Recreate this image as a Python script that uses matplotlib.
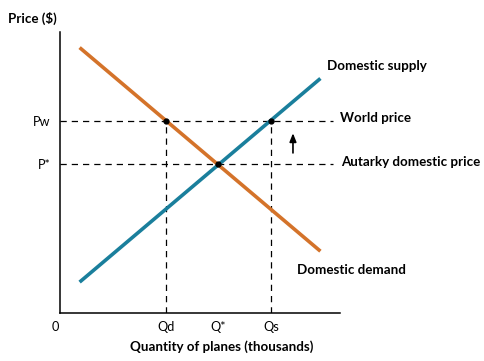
import matplotlib
matplotlib.use("Agg")
import matplotlib.pyplot as plt

plt.rcParams['font.family'] = ['Lato', 'DejaVu Sans']

# data (axis units 0..10)
line_x = [0.7, 9.3]
demand_y = [9.45, 2.2]
supply_y = [1.1, 8.35]
pw = 6.83
p_star = 5.3
qd = 3.79
q_star = 5.64
qs = 7.54
x_ticks = [0, qd, q_star, qs]
x_labels = ["0", "Qd", "Q*", "Qs"]
y_ticks = [pw, p_star]
y_labels = ["Pw", "P*"]

orange = "#D4732A"
blue = "#1A7F9C"

fig = plt.figure(figsize=(4.84, 3.61), dpi=100)
ax = fig.add_axes([0.124, 0.133, 0.5785, 0.778])

dash = dict(color="black", lw=0.9, ls=(0, (5, 4)))
ax.plot([0, 9.75], [pw, pw], **dash)
ax.plot([0, 9.75], [p_star, p_star], **dash)
ax.plot([qd, qd], [0, pw], **dash)
ax.plot([qs, qs], [0, pw], **dash)

ax.plot(line_x, demand_y, color=orange, lw=2.6, solid_capstyle="butt")
ax.plot(line_x, supply_y, color=blue, lw=2.6, solid_capstyle="butt")

ax.plot([qd, qs, q_star], [pw, pw, p_star], "o", color="black", ms=3.5, zorder=5)

ax.annotate("", xy=(8.32, 6.5), xytext=(8.32, 5.6),
            arrowprops=dict(arrowstyle="-|>,head_width=0.2,head_length=0.5", color="black", lw=1.2))

bold = dict(fontsize=9.6, fontweight="bold", va="center", ha="left", clip_on=False)
ax.text(9.54, 8.78, "Domestic supply", **bold)
ax.text(10.0, 6.93, "World price", **bold)
ax.text(10.03, 5.36, "Autarky domestic price", **bold)
ax.text(8.46, 1.53, "Domestic demand", **bold)

ax.set_xlim(0, 10)
ax.set_ylim(0, 10)
ax.set_xticks(x_ticks)
ax.set_xticklabels(x_labels, fontsize=9.2)
ax.set_yticks(y_ticks)
ax.set_yticklabels(y_labels, fontsize=9.2)
ax.tick_params(length=0, pad=7)
ax.tick_params(axis="x", pad=6)
ax.get_xticklabels()[0].set_x(-0.15)
for s in ["top", "right"]:
    ax.spines[s].set_visible(False)
for s in ["left", "bottom"]:
    ax.spines[s].set_linewidth(1.1)

# nudge the origin label left like the reference
import matplotlib.transforms as mtransforms
lbl0 = ax.get_xticklabels()[0]
lbl0.set_transform(lbl0.get_transform() + mtransforms.ScaledTranslation(-0.05, 0, fig.dpi_scale_trans))

fig.text(0.017, 0.95, "Price ($)", fontsize=9.6, fontweight="bold", va="center", ha="left")
fig.text(0.459, 0.039, "Quantity of planes (thousands)", fontsize=9.6, fontweight="bold", va="center", ha="center")

fig.savefig("out.png", dpi=100)
